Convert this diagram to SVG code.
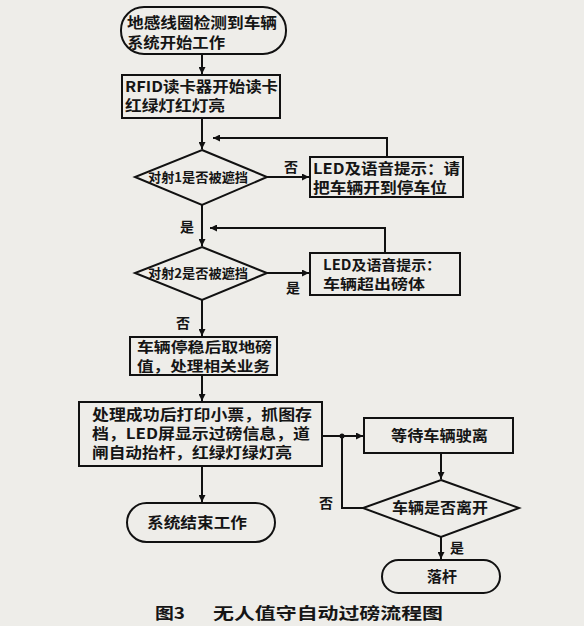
<svg xmlns="http://www.w3.org/2000/svg" width="584" height="626" viewBox="0 0 584 626">
<defs>
<marker id="ah" viewBox="0 0 10 10" refX="10" refY="5" markerWidth="7" markerHeight="7" markerUnits="userSpaceOnUse" orient="auto">
<path d="M0,0 L10,5 L0,10 z" fill="#111"/>
</marker>
<style>
.shape{fill:none;stroke:#111;stroke-width:2}
.wire{fill:none;stroke:#111;stroke-width:2}
.t{font-family:"Noto Sans CJK SC","Noto Sans",sans-serif;font-weight:bold;font-size:15px;fill:#151515}
.s{font-size:14px}
.d{font-size:13px}
.lab{font-family:"Noto Sans CJK SC",sans-serif;font-weight:bold;font-size:14px;fill:#151515}
.cap{font-family:"Noto Sans CJK SC",sans-serif;font-weight:bold;font-size:16px;fill:#151515}
</style>
</defs>
<rect x="0" y="0" width="584" height="626" fill="#eeede9"/>

<g id="connectors">
<path class="wire" d="M202,54 L202,74" marker-end="url(#ah)"/>
<path class="wire" d="M202,118 L202,149" marker-end="url(#ah)"/>
<path class="wire" d="M267,177 L309,177" marker-end="url(#ah)"/>
<path class="wire" d="M387,157 L387,138 L213,138" marker-end="url(#ah)"/>
<path class="wire" d="M202,205 L202,246" marker-end="url(#ah)"/>
<path class="wire" d="M267,273 L309,273" marker-end="url(#ah)"/>
<path class="wire" d="M385,253 L385,228 L210,228" marker-end="url(#ah)"/>
<path class="wire" d="M202,300 L202,336" marker-end="url(#ah)"/>
<path class="wire" d="M202,375 L202,401" marker-end="url(#ah)"/>
<path class="wire" d="M202,466 L202,502" marker-end="url(#ah)"/>
<path class="wire" d="M322,436 L363,436" marker-end="url(#ah)"/>
<path class="wire" d="M363,508 L342,508 L342,436"/>
<circle cx="342" cy="436" r="2.5" fill="#111"/>
<path class="wire" d="M441,453 L441,479" marker-end="url(#ah)"/>
<path class="wire" d="M441,537 L441,559" marker-end="url(#ah)"/>
<text class="lab" x="284" y="172">否</text>
<text class="lab" x="180" y="232">是</text>
<text class="lab" x="286" y="293">是</text>
<text class="lab" x="176" y="328">否</text>
<text class="lab" x="319" y="508">否</text>
<text class="lab" x="450" y="553">是</text>
</g>

<g id="start">
<rect class="shape" x="121" y="7" width="165" height="47" rx="23" ry="23"/>
<text class="t" x="127" y="28" textLength="150" lengthAdjust="spacingAndGlyphs">地感线圈检测到车辆</text>
<text class="t" x="127" y="48" textLength="98" lengthAdjust="spacingAndGlyphs">系统开始工作</text>
</g>

<g id="rfid">
<rect class="shape" x="122" y="75" width="158" height="43"/>
<text class="t" x="125" y="92" textLength="153" lengthAdjust="spacingAndGlyphs">RFID读卡器开始读卡</text>
<text class="t" x="125" y="111" textLength="100" lengthAdjust="spacingAndGlyphs">红绿灯红灯亮</text>
</g>

<g id="dec1">
<polygon class="shape" points="202,150 267,177 202,205 135,177"/>
<text class="t d" x="148" y="182" textLength="100" lengthAdjust="spacingAndGlyphs">对射1是否被遮挡</text>
</g>

<g id="tip1">
<rect class="shape" x="310" y="157" width="153" height="40"/>
<text class="t" x="313" y="174" textLength="147" lengthAdjust="spacingAndGlyphs">LED及语音提示：请</text>
<text class="t" x="313" y="193" textLength="134" lengthAdjust="spacingAndGlyphs">把车辆开到停车位</text>
</g>

<g id="dec2">
<polygon class="shape" points="202,247 267,273 202,300 135,273"/>
<text class="t d" x="148" y="278" textLength="100" lengthAdjust="spacingAndGlyphs">对射2是否被遮挡</text>
</g>

<g id="tip2">
<rect class="shape" x="310" y="253" width="150" height="42"/>
<text class="t s" x="323" y="270" textLength="118" lengthAdjust="spacingAndGlyphs">LED及语音提示：</text>
<text class="t s" x="323" y="289" textLength="102" lengthAdjust="spacingAndGlyphs">车辆超出磅体</text>
</g>

<g id="weigh">
<rect class="shape" x="130" y="337" width="147" height="38"/>
<text class="t s" x="137" y="352" textLength="135" lengthAdjust="spacingAndGlyphs">车辆停稳后取地磅</text>
<text class="t s" x="137" y="371" textLength="133" lengthAdjust="spacingAndGlyphs">值，处理相关业务</text>
</g>

<g id="process">
<rect class="shape" x="79" y="402" width="243" height="64"/>
<text class="t" x="92" y="420" textLength="220" lengthAdjust="spacingAndGlyphs">处理成功后打印小票，抓图存</text>
<text class="t" x="92" y="439" textLength="218" lengthAdjust="spacingAndGlyphs">档，LED屏显示过磅信息，道</text>
<text class="t" x="92" y="458" textLength="200" lengthAdjust="spacingAndGlyphs">闸自动抬杆，红绿灯绿灯亮</text>
</g>

<g id="end">
<rect class="shape" x="127" y="503" width="148" height="39" rx="19.5" ry="19.5"/>
<text class="t" x="147" y="528" textLength="100" lengthAdjust="spacingAndGlyphs">系统结束工作</text>
</g>

<g id="wait">
<rect class="shape" x="364" y="418" width="149" height="35"/>
<text class="t" x="391" y="441" textLength="97" lengthAdjust="spacingAndGlyphs">等待车辆驶离</text>
</g>

<g id="dec3">
<polygon class="shape" points="441,480 519,508 441,537 363,508"/>
<text class="t" x="392" y="513" textLength="96" lengthAdjust="spacingAndGlyphs">车辆是否离开</text>
</g>

<g id="lower">
<rect class="shape" x="382" y="560" width="118" height="33" rx="16.5" ry="16.5"/>
<text class="t" x="427" y="582" textLength="30" lengthAdjust="spacingAndGlyphs">落杆</text>
</g>

<text class="cap" x="155" y="619" textLength="30" lengthAdjust="spacingAndGlyphs">图3</text>
<text class="cap" x="213" y="619" textLength="230" lengthAdjust="spacingAndGlyphs">无人值守自动过磅流程图</text>
</svg>
